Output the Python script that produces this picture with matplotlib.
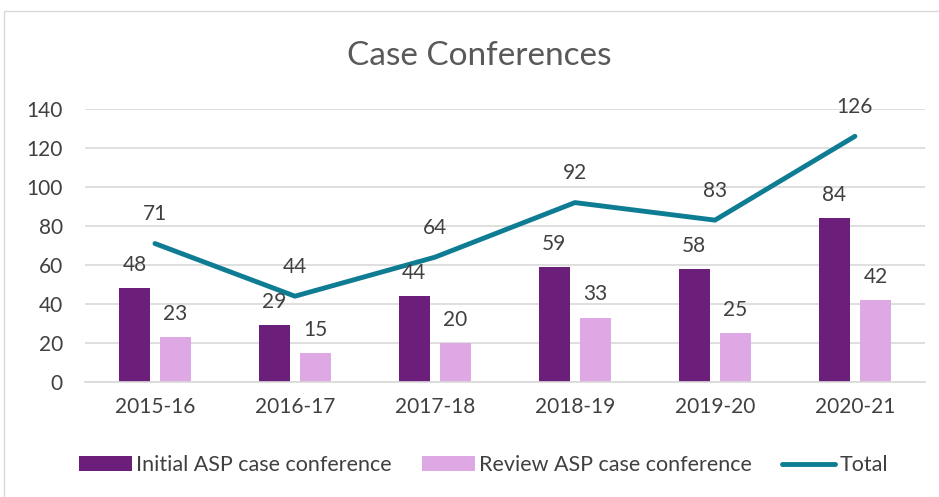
import matplotlib
matplotlib.use("Agg")
import matplotlib.pyplot as plt
from matplotlib.patches import Rectangle
import numpy as np

categories = ["2015-16", "2016-17", "2017-18", "2018-19", "2019-20", "2020-21"]
initial = [48, 29, 44, 59, 58, 84]
review = [23, 15, 20, 33, 25, 42]
total = [71, 44, 64, 92, 83, 126]

plt.rcParams['font.family'] = ['Lato', 'DejaVu Sans']
txt = '#404040'

fig = plt.figure(figsize=9.39 * np.array([1, 497 / 939]), dpi=100)
ax = fig.add_axes([0.0905, 0.2314, 0.8945, 0.5493])

x = np.arange(len(categories))
w = 0.225
off = 0.147
c_init = '#6B1F7B'
c_rev = '#DDA8E4'
c_tot = '#0E7C93'

b1 = ax.bar(x - off, initial, w, color=c_init, label='Initial ASP case conference', zorder=2)
b2 = ax.bar(x + off, review, w, color=c_rev, label='Review ASP case conference', zorder=2)
ln, = ax.plot(x, total, color=c_tot, lw=3.5, label='Total', zorder=3, solid_capstyle='round')

for xi, v in zip(x - off, initial):
    ax.annotate(str(v), (xi, v), xytext=(0, 9.5), textcoords='offset points',
                ha='center', va='bottom', fontsize=15, color=txt)
for xi, v in zip(x + off, review):
    ax.annotate(str(v), (xi, v), xytext=(0, 9.5), textcoords='offset points',
                ha='center', va='bottom', fontsize=15, color=txt)
for xi, v in zip(x, total):
    ax.annotate(str(v), (xi, v), xytext=(0, 14), textcoords='offset points',
                ha='center', va='bottom', fontsize=15, color=txt)

ax.set_xlim(-0.5, len(categories) - 0.5)
ax.set_ylim(0, 140)
ax.set_yticks(range(0, 141, 20))
ax.set_xticks(x)
ax.set_xticklabels(categories)
ax.tick_params(axis='both', length=0, labelsize=15, colors=txt)
ax.tick_params(axis='x', pad=11)
ax.tick_params(axis='y', pad=16)
ax.grid(axis='y', color='#D9D9D9', lw=1.2, zorder=0)
ax.set_axisbelow(True)
for s in ['top', 'right', 'left']:
    ax.spines[s].set_visible(False)
ax.spines['bottom'].set_color('#D9D9D9')
ax.spines['bottom'].set_linewidth(1.2)

fig.text(0.510, 0.887, 'Case Conferences', ha='center', va='center', fontsize=24, color='#595959')

leg = fig.legend(handles=[b1, b2, ln], loc='center', bbox_to_anchor=(0.515, 0.064), ncol=3,
                 frameon=False, fontsize=15.5, handlelength=2.45, handleheight=0.65,
                 columnspacing=1.4, handletextpad=0.2)
for t in leg.get_texts():
    t.set_color(txt)

fig.patches.append(Rectangle((4 / 939, -0.01), 1.0, 1 - 11 / 497 + 0.01, transform=fig.transFigure,
                             fill=False, edgecolor='#D9D9D9', lw=1))

fig.savefig('out.png', dpi=100)
